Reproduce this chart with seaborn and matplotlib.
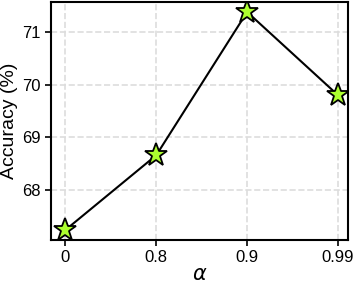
import pandas as pd
import matplotlib.pyplot as plt
import seaborn as sns

alpha_labels = ['0', '0.8', '0.9', '0.99']
accuracy = [67.24, 68.66, 71.38, 69.80]

df = pd.DataFrame({'pos': range(len(alpha_labels)), 'acc': accuracy})

sns.set_style('white')
plt.rcParams['font.family'] = ['Liberation Sans', 'DejaVu Sans']
plt.rcParams['text.color'] = 'black'
plt.rcParams['axes.labelcolor'] = 'black'

fig, ax = plt.subplots(figsize=(3.54, 2.84), dpi=100)
sns.lineplot(x='pos', y='acc', data=df, ax=ax, color='black', linewidth=1.5,
             marker='*', markersize=17, markerfacecolor='#adff2f',
             markeredgecolor='black', markeredgewidth=1.3)

ax.set_xticks(range(len(alpha_labels)))
ax.set_xticklabels(alpha_labels)
ax.set_yticks([68, 69, 70, 71])
ax.set_xlim(-0.155, 3.11)
ax.set_ylim(67.05, 71.57)
ax.grid(True, linestyle='--', color='#dddddd', linewidth=1.2)
ax.set_axisbelow(True)
for s in ax.spines.values():
    s.set_color('black')
    s.set_linewidth(1.5)
ax.tick_params(axis='both', labelsize=12, length=4, width=1.2, direction='out',
               bottom=True, left=True, colors='black')
ax.set_xlabel(r'$\alpha$', fontsize=15, labelpad=0)
ax.set_ylabel('Accuracy (%)', fontsize=14, labelpad=3)

fig.subplots_adjust(left=0.145, right=0.983, top=0.993, bottom=0.155)
fig.savefig('out.png', dpi=100)
